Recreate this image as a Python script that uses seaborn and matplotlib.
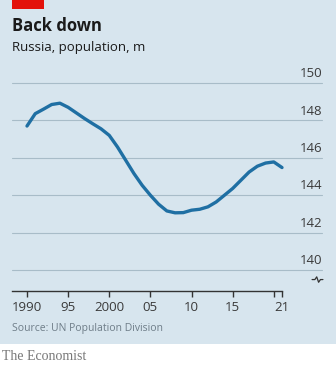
import matplotlib
matplotlib.use("Agg")
import matplotlib.pyplot as plt
import matplotlib.transforms as mtransforms
from matplotlib.patches import Rectangle
import seaborn as sns
import pandas as pd

years = list(range(1990, 2022))
population = [147.7, 148.36, 148.6, 148.85, 148.92, 148.7, 148.4, 148.1, 147.82, 147.55,
              147.2, 146.58, 145.87, 145.16, 144.53, 144.0, 143.52, 143.16, 143.06, 143.07,
              143.2, 143.25, 143.38, 143.64, 144.0, 144.36, 144.8, 145.24, 145.55, 145.72,
              145.78, 145.48]
x_ticks = [1990, 1995, 2000, 2005, 2010, 2015, 2020, 2021]
x_labels = ["1990", "95", "2000", "05", "10", "15", "", "21"]
y_ticks = [140, 142, 144, 146, 148, 150]
title = "Back down"
subtitle = "Russia, population, m"
source = "Source: UN Population Division"

BG = "#d7e5ee"
BLUE = "#1f6fa3"
GRID = "#a8bcc8"
DARK = "#1a1a1a"
TICK = "#333333"

sns.set_theme(style="white")
plt.rcParams["font.family"] = ["Open Sans", "DejaVu Sans"]

W, H = 336, 365
fig = plt.figure(figsize=(W / 100, H / 100), dpi=100, facecolor="white")

def fx(px):
    return px / W

def fy(py):
    return 1 - py / H

# background panel and red tag
fig.patches.append(Rectangle((0, fy(344)), 1, 1 - fy(344), transform=fig.transFigure,
                             facecolor=BG, edgecolor="none", zorder=-10))
fig.patches.append(Rectangle((fx(12), fy(9)), fx(32), 9 / H, transform=fig.transFigure,
                             facecolor="#e3120b", edgecolor="none", zorder=-5))

ax = fig.add_axes([fx(12), fy(291), fx(310), (291 - 83) / H])
ax.set_facecolor("none")
ax.set_zorder(5)

df = pd.DataFrame({"year": years, "population": population})

x0 = 1990 - 15 / 8.226
x1 = 2021 + 40 / 8.226
ax.set_xlim(x0, x1)
y0 = 140 - 21 / 18.75
ax.set_ylim(y0, 150)

for v in y_ticks:
    ax.axhline(v, color=GRID, lw=0.8, zorder=1, clip_on=False)
    ax.text(1.0, v + 0.15, str(v), transform=mtransforms.blended_transform_factory(ax.transAxes, ax.transData),
            ha="right", va="bottom", fontsize=9.5, color="#3a3a3a")

sns.lineplot(data=df, x="year", y="population", ax=ax, color=BLUE, lw=2.4, zorder=3)

for s in ["top", "right", "left"]:
    ax.spines[s].set_visible(False)
ax.spines["bottom"].set_bounds(x0, 2021)
ax.spines["bottom"].set_color(TICK)
ax.spines["bottom"].set_linewidth(1.0)

ax.set_xticks(x_ticks)
ax.set_xticklabels(x_labels)
ax.tick_params(axis="x", direction="out", length=4.5, width=1.0, color=TICK,
               labelsize=9.5, labelcolor="#3a3a3a", pad=3, bottom=True)
ax.set_yticks([])
ax.set_xlabel("")
ax.set_ylabel("")

# axis break squiggle
ax.plot([0.968, 0.977, 0.983, 0.989, 0.995, 1.003], [0.055, 0.055, 0.068, 0.042, 0.055, 0.055],
        transform=ax.transAxes, color=TICK, lw=0.9, clip_on=False)

fig.text(fx(12), fy(26), title, fontsize=12, fontweight="bold", color=DARK, ha="left", va="center")
fig.text(fx(12), fy(47), subtitle, fontsize=9.5, color=DARK, ha="left", va="center")
fig.text(fx(12), fy(328), source, fontsize=7.5, color="#6e7d88", ha="left", va="center")
fig.text(fx(2), fy(356), "The Economist", fontsize=10, color="#777777", ha="left", va="center",
         family=["Liberation Serif", "DejaVu Serif"])

fig.savefig("out.png", dpi=100, facecolor="white")
